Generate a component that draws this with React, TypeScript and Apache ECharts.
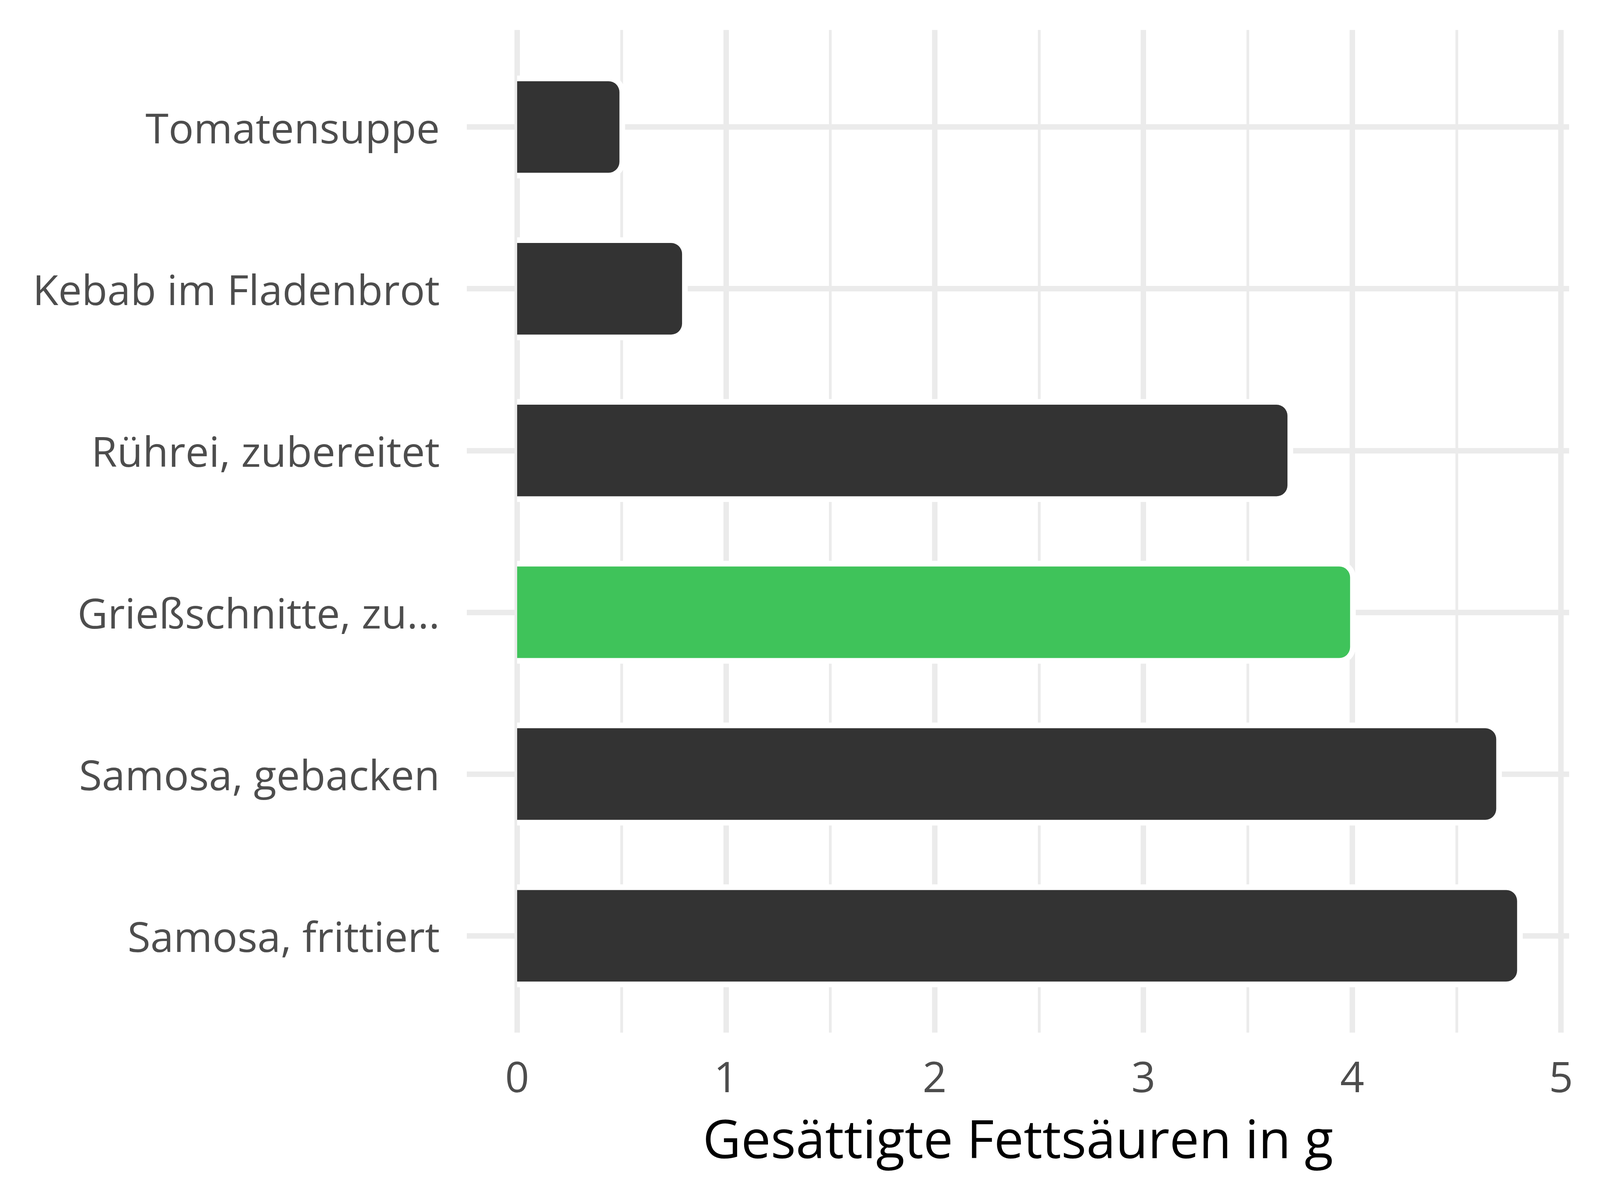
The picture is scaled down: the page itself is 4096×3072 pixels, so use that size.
import React, { useEffect, useRef } from "react";
import * as echarts from "echarts";

const categories = [
  "Tomatensuppe",
  "Kebab im Fladenbrot",
  "Rührei, zubereitet",
  "Grießschnitte, zu...",
  "Samosa, gebacken",
  "Samosa, frittiert",
];
const values = [0.49, 0.79, 3.69, 3.99, 4.69, 4.79];
const highlighted = [false, false, false, true, false, false];
const xTicks = [0, 1, 2, 3, 4, 5];
const axisTitle = "Gesättigte Fettsäuren in g";

const DARK = "#333333";
const GREEN = "#3FC35A";
const GRIDC = "#EBEBEB";
const FONT = "Open Sans";

export default function App() {
  const ref = useRef<HTMLDivElement>(null);
  useEffect(() => {
    if (!ref.current) return;
    const chart = echarts.init(ref.current, null, { renderer: "svg" });
    const band = 414.1;
    const firstCenter = 325.1;
    const x0 = 1323.9;
    const plotW = 3996 - x0;
    const barFrac = 0.566;
    const pad = 14.5;
    const radius = 28;
    const option: any = {
      animation: false,
      backgroundColor: "#ffffff",
      grid: [
        { left: x0, top: firstCenter - band / 2, width: plotW, height: band * 6 },
        { left: 1195, top: firstCenter, width: 4017 - 1195, height: band * 5 },
        { left: x0, top: 76.8, width: plotW, height: 2643.5 - 76.8 },
      ],
      xAxis: [
        { gridIndex: 0, type: "value", min: 0, max: 5, show: false },
        { gridIndex: 1, type: "value", min: 0, max: 1, show: false },
        {
          gridIndex: 2,
          type: "value",
          min: xTicks[0],
          max: xTicks[xTicks.length - 1],
          interval: 1,
          axisLine: { show: false },
          axisTick: { show: false },
          minorTick: { show: false, splitNumber: 2 },
          splitLine: { show: true, lineStyle: { color: GRIDC, width: 14 } },
          minorSplitLine: { show: true, lineStyle: { color: GRIDC, width: 7 } },
          axisLabel: {
            show: true,
            fontSize: 108,
            color: "#4D4D4D",
            fontFamily: FONT,
            margin: 57,
          },
        },
      ],
      yAxis: [
        {
          gridIndex: 0,
          type: "category",
          data: categories,
          inverse: true,
          axisLine: { show: false },
          axisTick: { show: false },
          splitLine: { show: false },
          axisLabel: {
            fontSize: 107,
            color: "#4D4D4D",
            fontFamily: FONT,
            margin: 198,
          },
        },
        {
          gridIndex: 1,
          type: "value",
          min: 0,
          max: 5,
          interval: 1,
          axisLine: { show: false },
          axisTick: { show: false },
          axisLabel: { show: false },
          splitLine: { show: true, lineStyle: { color: GRIDC, width: 14 } },
        },
        { gridIndex: 2, type: "value", min: 0, max: 1, show: false },
      ],
      series: [
        {
          type: "custom",
          xAxisIndex: 0,
          yAxisIndex: 0,
          z: 2,
          data: values.map((v, i) => [v, i]),
          renderItem: (params: any, api: any) => {
            const v = api.value(0);
            const idx = api.value(1);
            const s = api.coord([0, idx]);
            const e = api.coord([v, idx]);
            const bh = api.size([0, 1])[1] * barFrac;
            return {
              type: "rect",
              shape: {
                x: s[0],
                y: s[1] - bh / 2 - pad,
                width: e[0] - s[0] + pad,
                height: bh + 2 * pad,
                r: [0, radius + pad, radius + pad, 0],
              },
              style: { fill: "#ffffff" },
            };
          },
        },
        {
          type: "bar",
          xAxisIndex: 0,
          yAxisIndex: 0,
          z: 3,
          barWidth: (barFrac * 100).toFixed(1) + "%",
          data: values.map((v, i) => ({
            value: v,
            itemStyle: {
              color: highlighted[i] ? GREEN : DARK,
              borderRadius: [0, radius, radius, 0],
            },
          })),
        },
      ],
      graphic: [
        {
          type: "text",
          x: 2606,
          y: 2913,
          style: {
            text: axisTitle,
            fontSize: 135,
            fontFamily: FONT,
            fill: "#000000",
            textAlign: "center",
            textVerticalAlign: "middle",
          },
        },
      ],
    };
    chart.setOption(option);
    return () => chart.dispose();
  }, []);
  return (
    <div
      ref={ref}
      style={{ position: "fixed", left: 0, top: 0, width: 4096, height: 3072 }}
    />
  );
}
